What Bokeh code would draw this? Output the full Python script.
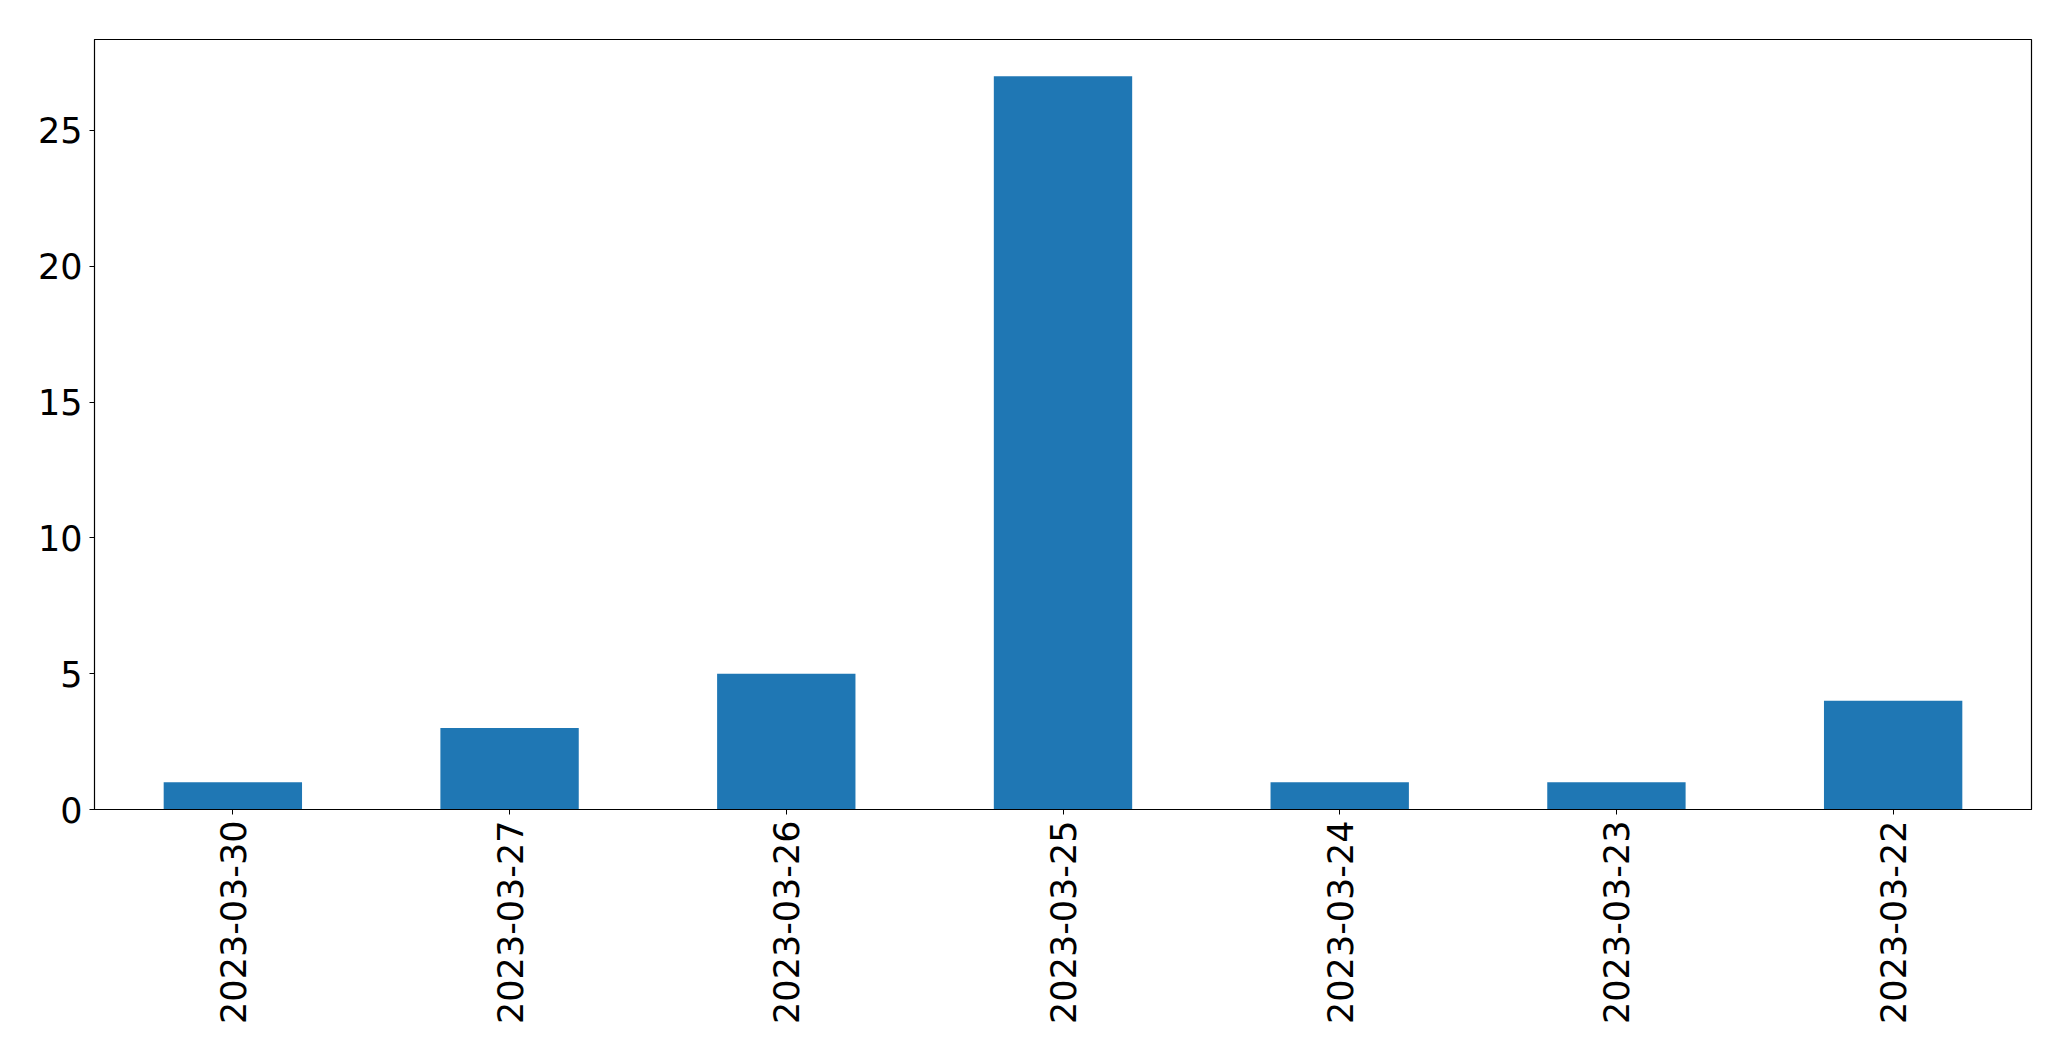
import math
from bokeh.plotting import figure
from bokeh.models import Range1d, FactorRange, FixedTicker, ColumnDataSource
from bokeh.embed import file_html
from bokeh.resources import INLINE

dates = ["2023-03-30", "2023-03-27", "2023-03-26", "2023-03-25",
         "2023-03-24", "2023-03-23", "2023-03-22"]
counts = [1, 3, 5, 27, 1, 1, 4]
y_ticks = [0, 5, 10, 15, 20, 25]

src = ColumnDataSource(data=dict(date=dates, count=counts))

p = figure(
    x_range=FactorRange(*dates, range_padding=0),
    y_range=Range1d(0, max(counts) * 1.05),
    width=2063, height=1053,
    output_backend="svg", toolbar_location=None,
    min_border_left=94, min_border_right=32,
    min_border_top=39, min_border_bottom=244,
)
p.vbar(x="date", top="count", width=0.5, source=src,
       fill_color="#1f77b4", line_color=None)

p.xgrid.visible = False
p.ygrid.visible = False
p.outline_line_color = "black"
p.outline_line_width = 1.2
p.outline_line_alpha = 1.0
p.background_fill_color = "white"
p.border_fill_color = "white"

for ax in (p.xaxis[0], p.yaxis[0]):
    ax.axis_line_color = "black"
    ax.major_tick_line_color = "black"
    ax.major_tick_out = 5
    ax.major_tick_in = 0
    ax.minor_tick_line_color = None
    ax.major_label_text_font = "DejaVu Sans"
    ax.major_label_text_font_size = "35px"
    ax.major_label_text_color = "black"

p.yaxis[0].ticker = FixedTicker(ticks=y_ticks)
p.yaxis[0].major_label_standoff = 7
p.xaxis[0].major_label_orientation = math.pi / 2
p.xaxis[0].major_label_standoff = 6
p.xaxis[0].group_text_font_size = "0px"

open("out.html", "w").write(file_html(p, INLINE))
